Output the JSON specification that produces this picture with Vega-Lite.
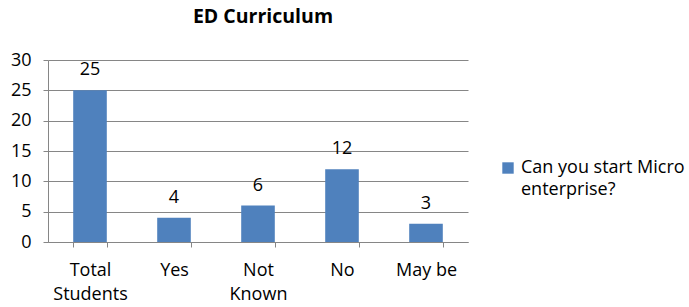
{
  "$schema": "https://vega.github.io/schema/vega-lite/v6.json",
  "autosize": {"type": "none"},
  "width": 420,
  "height": 182,
  "padding": {"left": 48, "top": 60, "right": 221, "bottom": 65},
  "background": "white",
  "config": {
    "font": "Open Sans",
    "view": {"stroke": null}
  },
  "title": {
    "text": "ED Curriculum",
    "font": "Open Sans",
    "fontSize": 19.5,
    "fontWeight": "bold",
    "color": "#000000",
    "anchor": "middle",
    "frame": "group",
    "dx": 5,
    "baseline": "alphabetic",
    "offset": 9
  },
  "data": {
    "values": [
      {"category": "Total Students", "value": 25, "series": "Can you start Micro enterprise?"},
      {"category": "Yes", "value": 4, "series": "Can you start Micro enterprise?"},
      {"category": "Not Known", "value": 6, "series": "Can you start Micro enterprise?"},
      {"category": "No", "value": 12, "series": "Can you start Micro enterprise?"},
      {"category": "May be", "value": 3, "series": "Can you start Micro enterprise?"}
    ]
  },
  "encoding": {
    "x": {
      "field": "category",
      "type": "nominal",
      "sort": null,
      "scale": {"paddingInner": 0.6, "paddingOuter": 0.3},
      "axis": {
        "title": null,
        "labelAngle": 0,
        "labelFontSize": 18,
        "labelColor": "#000000",
        "labelPadding": 14,
        "labelLineHeight": 24,
        "labelBaseline": "top",
        "tickBand": "extent",
        "tickSize": 5,
        "tickColor": "#868686",
        "domainColor": "#868686",
        "grid": false,
        "labelExpr": "datum.value == 'Total Students' ? ['Total', 'Students'] : datum.value == 'Not Known' ? ['Not', 'Known'] : datum.value"
      }
    },
    "y": {
      "field": "value",
      "type": "quantitative",
      "scale": {"domain": [0, 30], "nice": false},
      "axis": {
        "title": null,
        "values": [0, 5, 10, 15, 20, 25, 30],
        "labelFontSize": 18,
        "labelColor": "#000000",
        "labelPadding": 12,
        "tickSize": 5,
        "tickColor": "#868686",
        "domainColor": "#868686",
        "grid": true,
        "gridColor": "#868686"
      }
    }
  },
  "layer": [
    {
      "mark": {"type": "bar", "color": "#4F81BD"},
      "encoding": {
        "color": {
          "field": "series",
          "type": "nominal",
          "scale": {"range": ["#4F81BD"]},
          "legend": {
            "title": null,
            "orient": "none",
            "legendX": 451,
            "legendY": 99,
            "padding": 0,
            "symbolType": "square",
            "symbolSize": 130,
            "symbolStrokeWidth": 0,
            "labelFontSize": 18,
            "labelColor": "#000000",
            "labelLimit": 300,
            "labelOffset": 4,
            "labelBaseline": "alphabetic",
            "labelExpr": "['Can you start Micro', 'enterprise?']",
            "encode": {"labels": {"update": {"dy": {"value": 5}, "lineHeight": {"value": 22}}}}
          }
        }
      }
    },
    {
      "mark": {"type": "text", "baseline": "alphabetic", "dy": -15, "fontSize": 18, "color": "#000000"},
      "encoding": {"text": {"field": "value", "type": "quantitative"}}
    }
  ]
}
